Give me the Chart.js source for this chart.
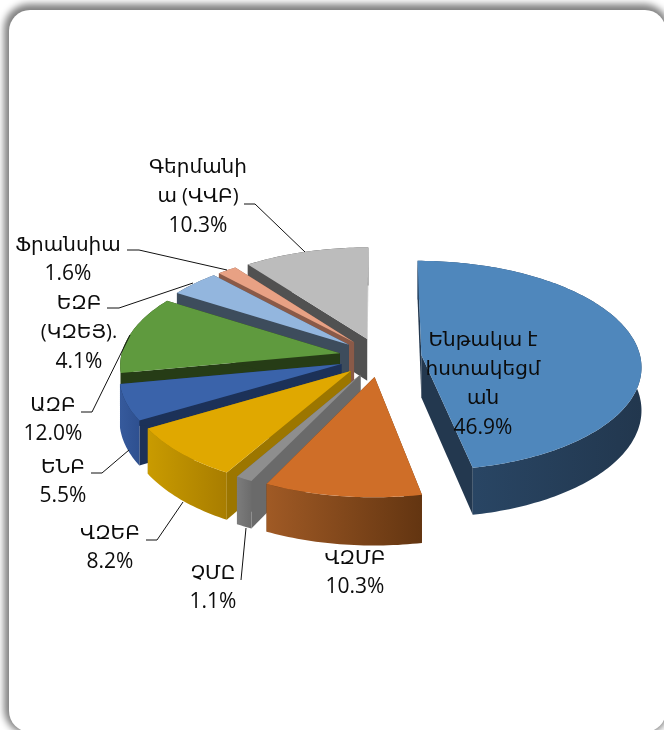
<!DOCTYPE html>
<html>
<head>
<meta charset="utf-8">
<script src="https://cdn.jsdelivr.net/npm/chart.js@4"></script>
<style>
html,body{margin:0;padding:0;background:#fff;overflow:hidden;width:664px;height:730px}
#panel{position:absolute;left:9px;top:10px;width:657px;height:722px;border-radius:21px;background:#fff;box-shadow:-1px -2px 7px 4px #808080}
canvas{position:absolute;left:0;top:0}
</style>
</head>
<body>
<div id="panel"></div>
<canvas id="c" width="664" height="730"></canvas>
<script>
const categories = [
  "Ենթակա է|հստակեցմ|ան", "ՎԶՄԲ", "ՉՄԸ", "ՎԶԵԲ", "ԵՆԲ", "ԱԶԲ",
  "ԵԶԲ|(ԿԶԵՅ).", "Ֆրանսիա", "Գերմանի|ա (ՎՎԲ)"
];
const shares = [46.9, 10.3, 1.1, 8.2, 5.5, 12.0, 4.1, 1.6, 10.3];

const topColors  = ["#4f87bc","#cf6e28","#8e8e8e","#e0a800","#3a63aa","#5f9a3e","#93b6de","#e8a184","#bcbcbc"];
const wallLight  = ["#2b4a6b","#a05a25","#7c7c7c","#c99b00","#365a9c","#263c16","#3d4c5c","#8a5a48","#515151"];
const wallDark   = ["#22374e","#633511","#6c6c6c","#a87d00","#2e5090","#263c16","#3d4c5c","#8a5a48","#515151"];
const startCuts  = ["#23384f","#6a3a14","#6a6a6a","#9c7600","#1c3158","#263c16","#3d4c5c","#8a5a48","#515151"];
const endCuts    = ["#23384f","#6a3a14","#6a6a6a","#9c7600","#1c3158","#263c16","#3d4c5c","#8a5a48","#c6c6c6"];
const explosion  = [0.19,0.19,0.187,0.187,0.187,0.187,0.187,0.187,0.187];

const labelX = [483,355,213,110,63,53,79,68,198];
const labelY = [340,558,573,533,467,405,303,245,167];
const leaderLines = [
  null, null,
  [[241,580],[246,528]],
  [[146,540],[157,540],[183,502]],
  [[91,473],[102,473],[129,450]],
  [[81,412],[92,412],[130,335]],
  [[107,308],[119,308],[193,283]],
  [[127,250],[139,250],[227,270]],
  [[244,204],[255,204],[305,252]]
];
const lineGap = 29.3;
const tilt = 0.475, perspective = 0.1, depth = 42.5;

function projector(arc, i) {
  const mid = (arc.startAngle + arc.endAngle) / 2, e = explosion[i], R = arc.outerRadius;
  const ex = e * Math.cos(mid), ey = e * Math.sin(mid);
  return (px, py, h = 0) => {
    const u = (px - arc.x) / R + ex, v = (py - arc.y) / R + ey;
    const s = 1 / (1 - perspective * v);
    return [arc.x + R * u * s, arc.y + R * tilt * v * s + h * depth * s];
  };
}

// A context wrapper through which the library's own ArcElement paints its tilted top face.
function projectedContext(ctx, P) {
  const own = {
    arc(x, y, r, a0, a1, ccw) {
      let d = a1 - a0;
      if (ccw && d > 0) d -= Math.PI * 2;
      const n = Math.max(2, Math.ceil(Math.abs(d) / 0.02));
      for (let k = 0; k <= n; k++) {
        const a = a0 + d * k / n, p = P(x + r * Math.cos(a), y + r * Math.sin(a));
        ctx.lineTo(p[0], p[1]);
      }
    },
    lineTo(x, y) { const p = P(x, y); ctx.lineTo(p[0], p[1]); },
    moveTo(x, y) { const p = P(x, y); ctx.moveTo(p[0], p[1]); }
  };
  return new Proxy(ctx, {
    get(t, k) { if (k in own) return own[k]; const v = t[k]; return typeof v === 'function' ? v.bind(t) : v; },
    set(t, k, v) { t[k] = v; return true; }
  });
}

function edge(arc, a) {
  return [arc.x + arc.outerRadius * Math.cos(a), arc.y + arc.outerRadius * Math.sin(a)];
}

function fillPoly(ctx, pts, fill) {
  ctx.beginPath();
  pts.forEach((p, k) => k ? ctx.lineTo(p[0], p[1]) : ctx.moveTo(p[0], p[1]));
  ctx.closePath();
  ctx.fillStyle = fill;
  ctx.fill();
}

const tiltedPie = {
  id: 'tiltedPie',
  beforeDatasetsDraw(chart) {
    const ctx = chart.ctx, arcs = chart.getDatasetMeta(0).data;
    for (let i = arcs.length - 1; i >= 0; i--) {
      const arc = arcs[i], P = projector(arc, i);
      [[arc.startAngle, startCuts[i]], [arc.endAngle, endCuts[i]]].forEach(([a, colour]) => {
        const q = edge(arc, a);
        fillPoly(ctx, [P(arc.x, arc.y), P(q[0], q[1]), P(q[0], q[1], 1), P(arc.x, arc.y, 1)], colour);
      });
      const n = Math.ceil((arc.endAngle - arc.startAngle) / 0.02), up = [], down = [];
      for (let k = 0; k <= n; k++) {
        const q = edge(arc, arc.startAngle + (arc.endAngle - arc.startAngle) * k / n);
        up.push(P(q[0], q[1]));
        down.push(P(q[0], q[1], 1));
      }
      const xs = up.map(p => p[0]), x0 = Math.min(...xs), x1 = Math.max(...xs);
      const g = ctx.createLinearGradient(x0, 0, x1, 0);
      g.addColorStop(0, wallLight[i]);
      g.addColorStop(1, wallDark[i]);
      fillPoly(ctx, up.concat(down.reverse()), g);
      arc.draw(projectedContext(ctx, P));
    }
    return false;
  },
  afterDraw(chart) {
    const ctx = chart.ctx;
    ctx.save();
    ctx.strokeStyle = '#111';
    ctx.lineWidth = 1;
    leaderLines.forEach(l => {
      if (!l) return;
      ctx.beginPath();
      l.forEach((p, k) => k ? ctx.lineTo(p[0], p[1]) : ctx.moveTo(p[0], p[1]));
      ctx.stroke();
    });
    ctx.fillStyle = '#0c0c0c';
    ctx.textAlign = 'center';
    ctx.textBaseline = 'middle';
    categories.forEach((c, i) => {
      const lines = c.split('|');
      ctx.font = '20px "Open Sans", "DejaVu Sans"';
      lines.forEach((t, k) => ctx.fillText(t, labelX[i], labelY[i] + k * lineGap));
      ctx.font = '21px "Open Sans", "DejaVu Sans"';
      ctx.fillText(shares[i].toFixed(1) + '%', labelX[i], labelY[i] + lines.length * lineGap);
    });
    ctx.restore();
  }
};

new Chart(document.getElementById('c'), {
  type: 'pie',
  data: {
    labels: categories.map(c => c.replace(/\|/g, ' ')),
    datasets: [{ data: shares, backgroundColor: topColors, borderWidth: 0 }]
  },
  options: {
    responsive: false,
    animation: false,
    layout: { padding: { left: 161, right: 65, top: 138, bottom: 154 } },
    plugins: { legend: { display: false }, tooltip: { enabled: false } }
  },
  plugins: [tiltedPie]
});
</script>
</body>
</html>
